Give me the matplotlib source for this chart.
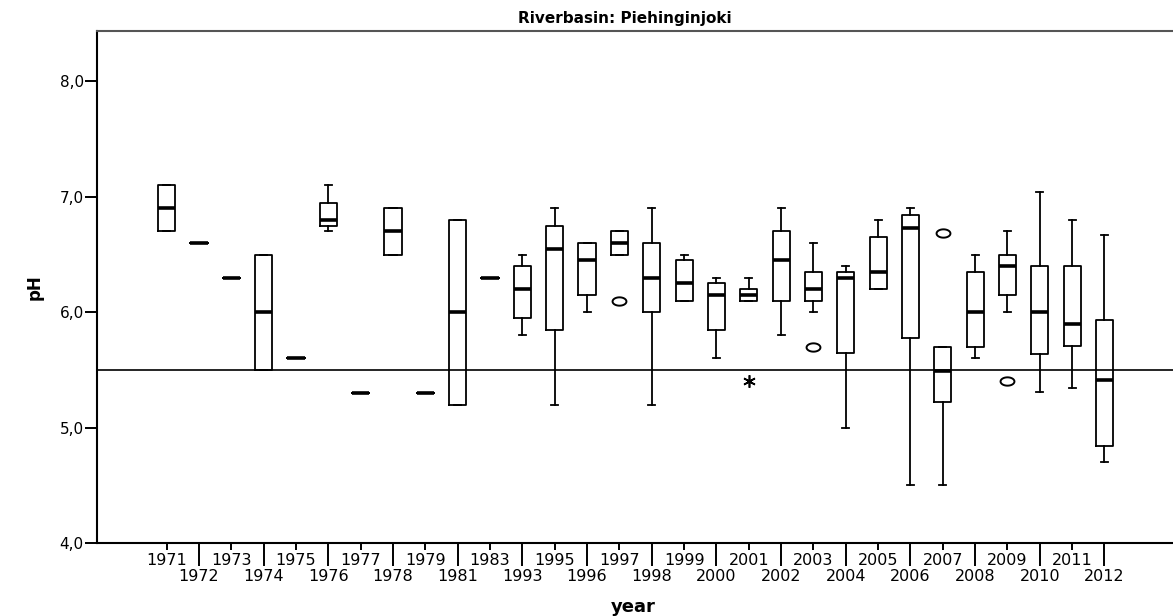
import matplotlib
matplotlib.use("Agg")
import matplotlib.pyplot as plt
import numpy as np
from matplotlib.path import Path
from matplotlib.ticker import FixedLocator

# pH by year, box statistics
years = ["1971", "1972", "1973", "1974", "1975", "1976", "1977", "1978", "1979", "1981",
         "1983", "1993", "1995", "1996", "1997", "1998", "1999", "2000", "2001", "2002",
         "2003", "2004", "2005", "2006", "2007", "2008", "2009", "2010", "2011", "2012"]
whis_lo = [6.70, 6.60, 6.30, 5.50, 5.60, 6.70, 5.30, 6.50, 5.30, 5.20,
           6.30, 5.80, 5.20, 6.00, 6.50, 5.20, 6.10, 5.60, 6.10, 5.80,
           6.00, 5.00, 6.20, 4.50, 4.50, 5.60, 6.00, 5.31, 5.34, 4.70]
q1 = [6.70, 6.60, 6.30, 5.50, 5.60, 6.75, 5.30, 6.50, 5.30, 5.20,
      6.30, 5.95, 5.85, 6.15, 6.50, 6.00, 6.10, 5.85, 6.10, 6.10,
      6.10, 5.65, 6.20, 5.78, 5.22, 5.70, 6.15, 5.64, 5.71, 4.84]
median = [6.90, 6.60, 6.30, 6.00, 5.60, 6.80, 5.30, 6.70, 5.30, 6.00,
          6.30, 6.20, 6.55, 6.45, 6.60, 6.30, 6.25, 6.15, 6.15, 6.45,
          6.20, 6.30, 6.35, 6.73, 5.49, 6.00, 6.40, 6.00, 5.90, 5.41]
q3 = [7.10, 6.60, 6.30, 6.50, 5.60, 6.95, 5.30, 6.90, 5.30, 6.80,
      6.30, 6.40, 6.75, 6.60, 6.70, 6.60, 6.45, 6.25, 6.20, 6.70,
      6.35, 6.35, 6.65, 6.84, 5.70, 6.35, 6.50, 6.40, 6.40, 5.93]
whis_hi = [7.10, 6.60, 6.30, 6.50, 5.60, 7.10, 5.30, 6.90, 5.30, 6.80,
           6.30, 6.50, 6.90, 6.60, 6.70, 6.90, 6.50, 6.30, 6.30, 6.90,
           6.60, 6.40, 6.80, 6.90, 5.70, 6.50, 6.70, 7.04, 6.80, 6.67]

outlier_years = ["1997", "2003", "2007", "2009"]
outlier_vals = [6.10, 5.70, 6.69, 5.40]
extreme_years = ["2001"]
extreme_vals = [5.40]

ref_level = 5.5

plt.rcParams["font.family"] = "DejaVu Sans"

fig = plt.figure(figsize=(11.73, 6.16), dpi=100)
ax = fig.add_axes([97 / 1173, 1 - 543 / 616, 1 - 97 / 1173, (543 - 30.7) / 616])

pos = list(range(len(years)))
stats = []
for i in pos:
    stats.append({"whislo": whis_lo[i], "q1": q1[i], "med": median[i],
                  "q3": q3[i], "whishi": whis_hi[i], "fliers": []})

ax.bxp(stats, positions=pos, widths=0.53, capwidths=0.22, showfliers=False,
       boxprops=dict(color="black", linewidth=1.3),
       whiskerprops=dict(color="black", linewidth=1.3),
       capprops=dict(color="black", linewidth=1.3),
       medianprops=dict(color="black", linewidth=2.6, solid_capstyle="butt"))

# SPSS draws outliers as flat ellipses
t = np.linspace(0, 2 * np.pi, 40)
ellipse = Path(np.column_stack([np.cos(t), 0.6 * np.sin(t)]), closed=True)

ox = [years.index(y) for y in outlier_years]
ax.plot(ox, outlier_vals, linestyle="none", marker=ellipse, markersize=10,
        markerfacecolor="white", markeredgecolor="black", markeredgewidth=1.4)
ex = [years.index(y) for y in extreme_years]
ax.plot(ex, extreme_vals, linestyle="none", marker=(6, 2, 0), markersize=9,
        color="black", markeredgewidth=1.2)

ax.axhline(ref_level, color="black", linewidth=1.2, zorder=0)

ax.set_xlim(-2.155, 31.12)
ax.set_ylim(4.0, 8.44)

# staggered year labels: odd positions on a short tick, even on a long tick
ax.xaxis.set_major_locator(FixedLocator(pos[0::2]))
ax.set_xticklabels(years[0::2])
ax.xaxis.set_minor_locator(FixedLocator(pos[1::2]))
ax.set_xticklabels(years[1::2], minor=True)
ax.tick_params(axis="x", which="major", length=5, width=1.4, pad=2.5, labelsize=11.5)
ax.tick_params(axis="x", which="minor", length=16.5, width=1.4, pad=2, labelsize=11.5)

ax.set_yticks([4, 5, 6, 7, 8])
ax.set_yticklabels(["4,0", "5,0", "6,0", "7,0", "8,0"])
ax.tick_params(axis="y", length=8.6, width=1.4, pad=1, labelsize=11)

for s in ["left", "bottom"]:
    ax.spines[s].set_linewidth(1.5)
ax.spines["top"].set_color("#555555")
ax.spines["top"].set_linewidth(1.5)
ax.spines["right"].set_visible(False)

fig.text(625 / 1173, 1 - 23 / 616, "Riverbasin: Piehinginjoki", ha="center",
         va="baseline", fontsize=11, fontweight="bold")
fig.text(633 / 1173, 1 - 612 / 616, "year", ha="center", va="baseline",
         fontsize=13, fontweight="bold")
fig.text(35 / 1173, 1 - 287 / 616, "pH", ha="center", va="center", rotation=90,
         fontsize=12, fontweight="bold")

fig.savefig("out.png", dpi=100)
